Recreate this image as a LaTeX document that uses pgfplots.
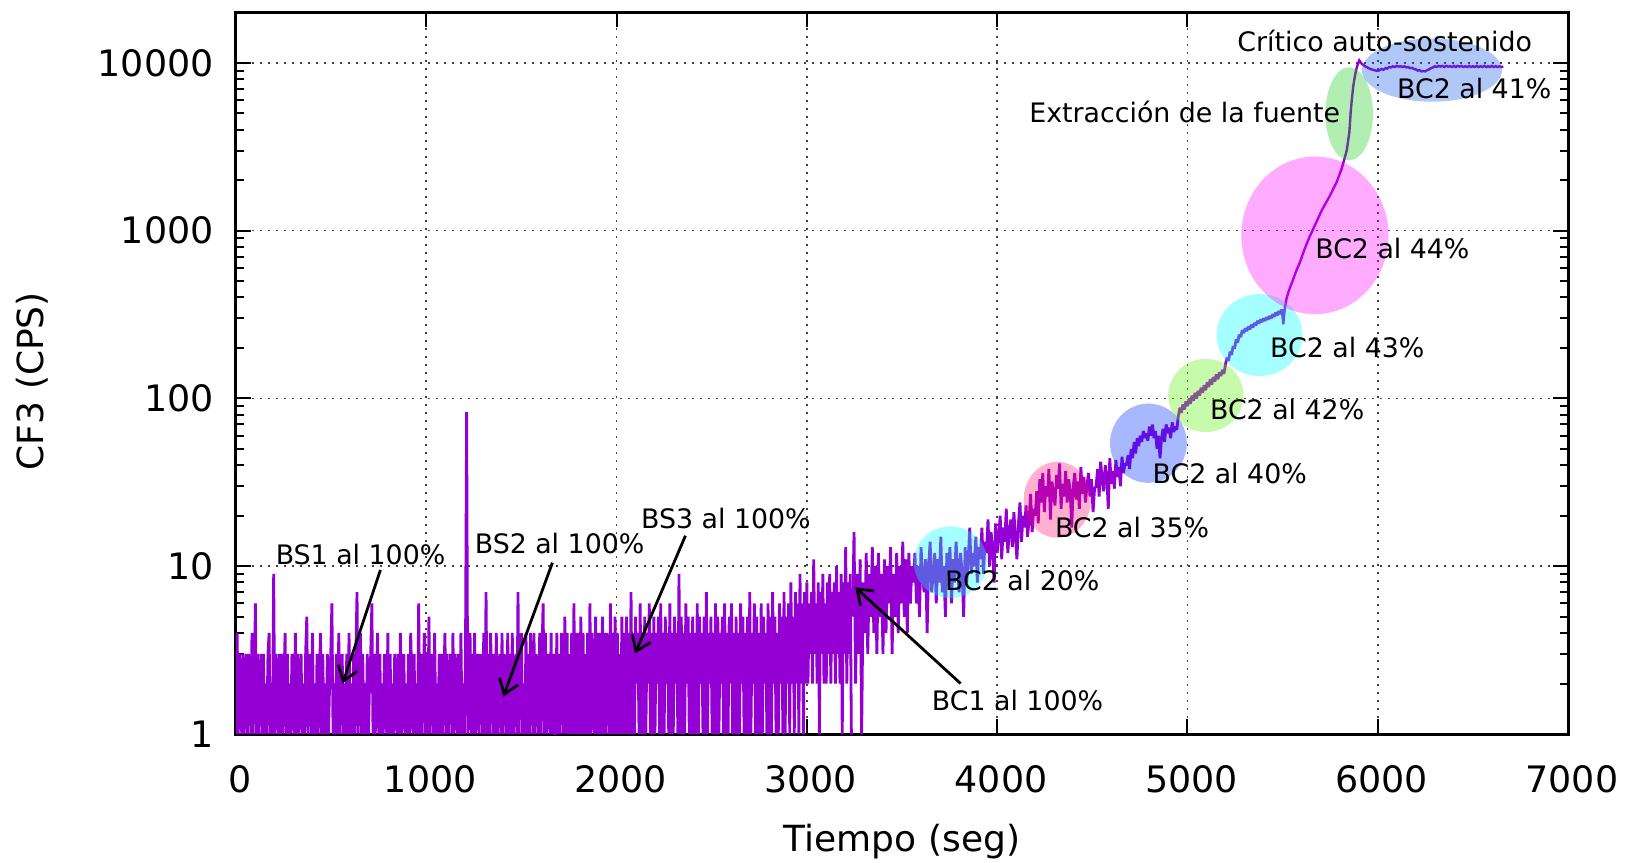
\documentclass[border=0pt]{standalone}
\usepackage{fontspec}
\setmainfont{DejaVu Sans}
\usepackage{pgfplots}
\pgfplotsset{compat=1.18}
\usetikzlibrary{arrows.meta}
\definecolor{dv}{HTML}{9400D3}
\definecolor{cyR}{RGB}{0,255,255}
\definecolor{maR}{RGB}{255,0,255}
\definecolor{c35}{RGB}{255,10,110}
\definecolor{c40}{RGB}{0,47,255}
\definecolor{c42}{RGB}{100,240,20}
\definecolor{cex}{RGB}{0,200,0}
\definecolor{c41}{RGB}{16,88,234}
\newcommand\af{\fontsize{13.4}{16}\selectfont}
\begin{document}
\begin{tikzpicture}
\useasboundingbox (-118pt,-64pt) rectangle (694.5pt,367pt);
\begin{axis}[
  at={(0,0)}, anchor=south west, scale only axis,
  width=666pt, height=360.8pt,
  xmin=0, xmax=7000, ymin=1, ymax=20000, ymode=log,
  xtick={0,1000,2000,3000,4000,5000,6000,7000},
  xticklabels={0,1000,2000,3000,4000,5000,6000,7000},
  ytick={1,10,100,1000,10000},
  yticklabels={1,10,100,1000,10000},
  minor ytick={2,3,4,5,6,7,8,9,20,30,40,50,60,70,80,90,200,300,400,500,600,700,800,900,2000,3000,4000,5000,6000,7000,8000,9000},
  tick align=inside, tick pos=both,
  major tick length=7.5pt, minor tick length=4pt,
  every tick/.style={black, line width=1pt},
  axis line style={line width=1.5pt},
  grid=major,
  major grid style={black!75, line width=0.8pt, dash pattern=on 0.8pt off 3.2pt},
  xticklabel style={font=\fontsize{18.2}{21}\selectfont, anchor=base, inner sep=0pt, yshift=-29pt, xshift=2pt},
  yticklabel style={font=\fontsize{18.2}{21}\selectfont, anchor=east, inner sep=0pt, xshift=-11pt},
  xlabel={Tiempo (seg)}, ylabel={CF3 (CPS)},
  every axis x label/.style={at={(axis description cs:0.5,-0.1635)}, anchor=base, font=\fontsize{18}{21}\selectfont},
  every axis y label/.style={at={(axis description cs:-0.1532,0.489)}, anchor=center, rotate=90, font=\fontsize{18}{21}\selectfont},
]
% 0 - 3234 s, every 6 s
\addplot[dv, line width=1.4pt, no marks, line join=bevel] table[row sep=\\, header=false, x expr=\coordindex*6, y index=0] {
1\\4\\1\\3\\2\\1\\3\\1\\2\\3\\1\\3\\2\\1\\4\\1\\2\\6\\1\\3\\
1\\2\\3\\1\\3\\1\\2\\1\\3\\4\\1\\2\\1\\9\\1\\3\\2\\1\\3\\1\\
3\\1\\2\\4\\1\\3\\1\\2\\1\\3\\2\\1\\4\\1\\3\\1\\2\\3\\1\\2\\
1\\3\\5\\1\\2\\3\\1\\4\\1\\2\\1\\3\\1\\2\\4\\1\\3\\1\\2\\1\\
3\\1\\2\\3\\6\\1\\2\\1\\3\\1\\4\\1\\2\\3\\1\\2\\1\\3\\1\\4\\
1\\2\\1\\3\\1\\3\\7\\1\\2\\4\\1\\3\\1\\2\\1\\3\\1\\2\\3\\6\\
1\\3\\1\\2\\4\\1\\3\\1\\2\\1\\3\\2\\1\\4\\1\\3\\1\\2\\1\\3\\
2\\1\\3\\1\\4\\1\\2\\3\\1\\2\\1\\3\\1\\4\\2\\1\\3\\1\\2\\1\\
6\\1\\3\\1\\2\\4\\1\\3\\1\\5\\1\\2\\3\\1\\4\\1\\2\\1\\3\\1\\
3\\1\\2\\4\\1\\3\\1\\2\\3\\1\\4\\1\\3\\2\\1\\3\\1\\4\\1\\2\\
1\\3\\83\\1\\2\\4\\1\\3\\1\\4\\1\\2\\3\\1\\3\\2\\1\\4\\1\\7\\
1\\3\\1\\4\\2\\1\\3\\1\\4\\1\\2\\3\\1\\4\\1\\3\\2\\1\\4\\1\\
3\\1\\4\\1\\2\\3\\1\\7\\1\\3\\4\\1\\2\\1\\4\\1\\3\\1\\4\\2\\
1\\4\\1\\3\\2\\1\\4\\1\\3\\6\\1\\4\\1\\2\\3\\1\\4\\1\\3\\1\\
1\\4\\1\\3\\1\\4\\2\\1\\5\\1\\4\\1\\3\\1\\4\\1\\6\\1\\4\\1\\
4\\1\\5\\1\\4\\1\\3\\1\\4\\1\\6\\1\\4\\2\\1\\5\\1\\4\\1\\4\\
1\\5\\1\\4\\1\\4\\2\\1\\6\\1\\4\\1\\5\\1\\4\\1\\3\\1\\5\\1\\
4\\1\\5\\1\\4\\1\\7\\1\\4\\1\\5\\2\\4\\1\\6\\1\\4\\1\\5\\1\\
4\\2\\6\\1\\4\\1\\5\\1\\4\\2\\5\\1\\6\\1\\4\\1\\5\\2\\4\\1\\
6\\1\\4\\1\\5\\2\\4\\1\\9\\1\\5\\1\\4\\1\\6\\2\\5\\1\\4\\1\\
5\\1\\4\\1\\6\\1\\5\\2\\4\\1\\5\\1\\7\\1\\4\\2\\5\\1\\4\\1\\
6\\1\\5\\1\\4\\2\\5\\1\\6\\1\\4\\1\\5\\2\\6\\1\\4\\1\\5\\1\\
4\\1\\6\\2\\5\\1\\4\\1\\5\\1\\7\\1\\4\\2\\6\\1\\5\\1\\4\\1\\
6\\1\\5\\2\\4\\1\\6\\1\\5\\1\\7\\2\\5\\1\\4\\1\\6\\2\\5\\1\\
7\\1\\5\\2\\6\\1\\8\\2\\5\\1\\7\\2\\6\\1\\9\\2\\6\\1\\7\\2\\
8\\2\\6\\3\\7\\2\\11\\3\\6\\2\\8\\1\\7\\3\\9\\2\\6\\2\\8\\3\\
9\\2\\7\\3\\8\\2\\10\\3\\7\\2\\9\\1\\8\\3\\13\\2\\8\\3\\9\\1\\
};
% 3240 - 5496 s, every 8 s
\addplot[dv, line width=1.4pt, no marks, line join=bevel] table[row sep=\\, header=false, x expr=3240+\coordindex*8, y index=0] {
5\\16\\2\\9\\3\\11\\1\\8\\4\\12\\3\\9\\5\\13\\4\\10\\3\\12\\5\\9\\
3\\11\\4\\10\\6\\13\\3\\9\\5\\12\\4\\10\\6\\14\\5\\11\\4\\12\\6\\10\\
8\\12\\6\\10\\5\\13\\9\\7\\11\\4\\10\\14\\7\\9\\12\\6\\11\\8\\15\\7\\
10\\5\\12\\9\\13\\6\\11\\8\\14\\10\\7\\12\\9\\5\\13\\8\\11\\17\\9\\12\\
10\\15\\8\\13\\11\\17\\9\\14\\12\\19\\10\\16\\13\\8\\18\\12\\15\\20\\11\\17\\
14\\22\\12\\16\\19\\13\\21\\15\\11\\18\\24\\14\\20\\17\\23\\15\\19\\27\\16\\22\\
20\\28\\18\\33\\24\\36\\21\\30\\26\\38\\19\\32\\27\\23\\35\\29\\41\\22\\31\\26\\
37\\24\\33\\28\\17\\30\\36\\25\\32\\22\\39\\27\\34\\24\\30\\36\\26\\33\\21\\29\\
30\\38\\26\\42\\33\\28\\40\\35\\22\\44\\31\\37\\29\\43\\34\\39\\30\\45\\36\\41\\
40\\46\\38\\50\\44\\55\\47\\58\\52\\60\\55\\64\\58\\
62\\56\\68\\60\\70\\58\\64\\50\\60\\44\\58\\66\\55\\70\\62\\67\\58\\72\\63\\68\\65\\
78\\88\\82\\92\\86\\96\\90\\99\\93\\104\\97\\108\\100\\111\\104\\116\\108\\120\\112\\125\\
117\\130\\121\\134\\126\\139\\130\\143\\136\\148\\140\\
160\\175\\168\\190\\182\\205\\198\\225\\215\\240\\232\\255\\245\\262\\252\\268\\258\\275\\265\\282\\
272\\290\\280\\296\\285\\300\\290\\305\\295\\310\\300\\318\\306\\325\\312\\332\\318\\340\\
};
% 5496 - 6660 s
\addplot[dv, line width=1.2pt, no marks] coordinates {
(5496,340) (5504,277) (5512,348) (5520,390) (5530,428) (5543,470) (5556,514) (5573,580)
(5591,647) (5608,735) (5626,832) (5643,925) (5661,1023) (5683,1160) (5705,1315) (5727,1460)
(5749,1617) (5767,1780) (5784,1945) (5797,2130) (5810,2333) (5824,2650) (5837,3000) (5844,3400)
(5851,3866) (5858,5093) (5865,6200) (5872,7341) (5879,8200) (5886,9017) (5895,9800) (5903,10350)
(5915,9900) (5930,9600) (5945,9400) (5960,9200) (5975,9100) (5990,9000) (6000,8950) (6010,9050)
(6020,9200) (6030,9100) (6040,9300) (6050,9250) (6060,9450) (6070,9400) (6080,9550) (6090,9450)
(6100,9600) (6110,9500) (6120,9550) (6130,9450) (6140,9550) (6150,9400) (6160,9450) (6170,9300)
(6180,9350) (6190,9200) (6200,9150) (6210,9000) (6220,9050) (6230,8900) (6240,8950) (6250,8900)
(6260,9050) (6270,9150) (6280,9300) (6290,9400) (6300,9550) (6310,9450) (6320,9600) (6330,9500)
(6340,9600) (6350,9450) (6360,9600) (6370,9500) (6380,9550) (6390,9450) (6400,9600) (6410,9450)
(6420,9600) (6430,9500) (6440,9600) (6450,9450) (6460,9550) (6470,9450) (6480,9600) (6490,9450)
(6500,9550) (6510,9450) (6520,9600) (6530,9450) (6540,9550) (6550,9450) (6560,9600) (6570,9450)
(6580,9550) (6590,9450) (6600,9600) (6610,9450) (6620,9550) (6630,9450) (6640,9550) (6650,9450) (6660,9500)
};
% highlight ellipses
\fill[cyR, opacity=0.35] (axis cs:3755,10.57) ellipse [x radius=18.4pt, y radius=17.9pt];
\fill[c35, opacity=0.32] (axis cs:4316,24.9) ellipse [x radius=16.8pt, y radius=19pt];
\fill[c40, opacity=0.34] (axis cs:4795,54.1) ellipse [x radius=19.2pt, y radius=19.8pt];
\fill[c42, opacity=0.36] (axis cs:5097,104.2) ellipse [x radius=18.8pt, y radius=18.3pt];
\fill[cyR, opacity=0.35] (axis cs:5379,238.7) ellipse [x radius=21.5pt, y radius=20.5pt];
\fill[maR, opacity=0.33] (axis cs:5670,937.6) ellipse [x radius=36.8pt, y radius=39.4pt];
\fill[cex, opacity=0.3] (axis cs:5850,4975) ellipse [x radius=11.9pt, y radius=23.3pt];
\fill[c41, opacity=0.33] (axis cs:6285,9056) ellipse [x radius=35pt, y radius=15.8pt];
% arrows
\draw[black, line width=1.4pt, -{Straight Barb[length=7pt, width=10pt]}] (axis cs:759,9.5) -- (axis cs:560,2.0);
\draw[black, line width=1.4pt, -{Straight Barb[length=7pt, width=10pt]}] (axis cs:1663,10.5) -- (axis cs:1405,1.67);
\draw[black, line width=1.4pt, -{Straight Barb[length=7pt, width=10pt]}] (axis cs:2362,15.2) -- (axis cs:2097,3.02);
\draw[black, line width=1.4pt, -{Straight Barb[length=7pt, width=10pt]}] (axis cs:3808,2.0) -- (axis cs:3254,7.5);
% labels
\node[anchor=base west, inner sep=0pt, font=\af] at (axis cs:5261,11620) {Crítico auto-sostenido};
\node[anchor=base west, inner sep=0pt, font=\af] at (axis cs:4167,4437) {Extracción de la fuente};
\node[anchor=base west, inner sep=0pt, font=\af] at (axis cs:6100,6114) {BC2 al 41\%};
\node[anchor=base west, inner sep=0pt, font=\af] at (axis cs:5670,685) {BC2 al 44\%};
\node[anchor=base west, inner sep=0pt, font=\af] at (axis cs:5433,175) {BC2 al 43\%};
\node[anchor=base west, inner sep=0pt, font=\af] at (axis cs:5117,75.2) {BC2 al 42\%};
\node[anchor=base west, inner sep=0pt, font=\af] at (axis cs:4815,31.1) {BC2 al 40\%};
\node[anchor=base west, inner sep=0pt, font=\af] at (axis cs:4302,14.8) {BC2 al 35\%};
\node[anchor=base west, inner sep=0pt, font=\af] at (axis cs:3725,7.15) {BC2 al 20\%};
\node[anchor=base west, inner sep=0pt, font=\af] at (axis cs:3655,1.374) {BC1 al 100\%};
\node[anchor=base west, inner sep=0pt, font=\af] at (axis cs:207,10.2) {BS1 al 100\%};
\node[anchor=base west, inner sep=0pt, font=\af] at (axis cs:1253,11.9) {BS2 al 100\%};
\node[anchor=base west, inner sep=0pt, font=\af] at (axis cs:2127,16.7) {BS3 al 100\%};
\end{axis}
\end{tikzpicture}
\end{document}
